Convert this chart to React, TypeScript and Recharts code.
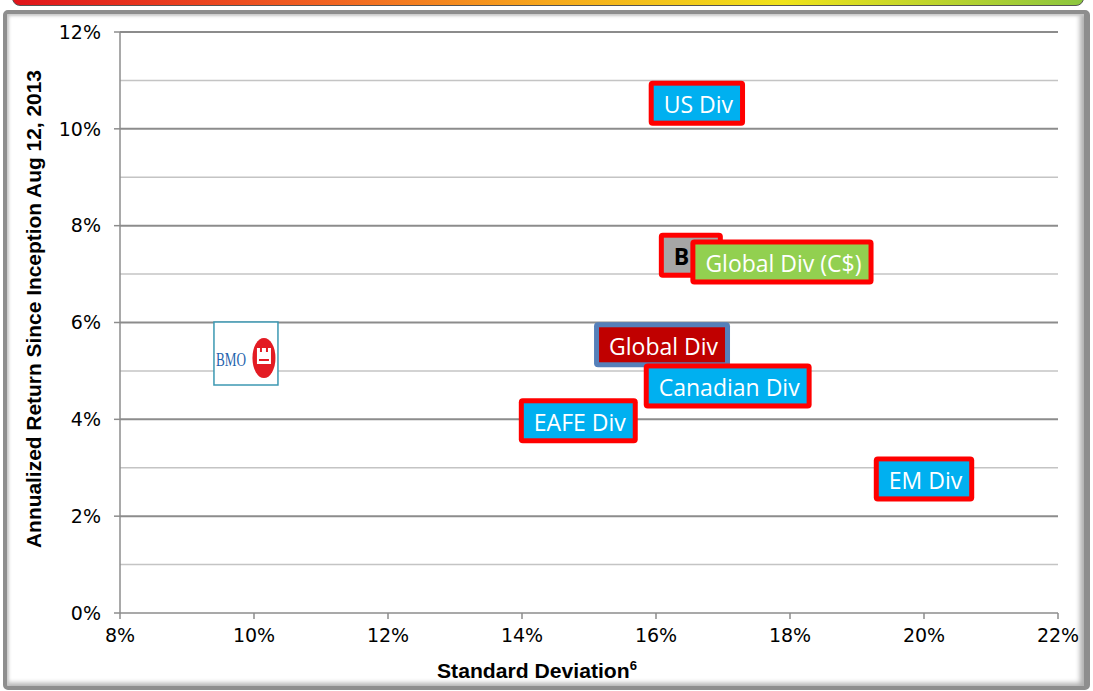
import React from "react";
import { ReferenceLine, Scatter, ScatterChart, XAxis, YAxis } from "recharts";

// Fund labels, risk (std dev %) and annualized return (%)
const fundNames = ["B", "US Div", "Global Div (C$)", "Global Div", "Canadian Div", "EAFE Div", "EM Div"];
const stdDevs = [16.52, 16.61, 17.88, 16.09, 17.07, 14.84, 20.0];
const annualReturns = [7.39, 10.53, 7.25, 5.54, 4.69, 3.97, 2.77];
const boxFills = ["#a6a6a6", "#00b0f0", "#92d050", "#c00000", "#00b0f0", "#00b0f0", "#00b0f0"];
const boxBorders = ["#ff0000", "#ff0000", "#ff0000", "#5580ba", "#ff0000", "#ff0000", "#ff0000"];

// BMO logo sits on its own point
const logoStdDev = [9.88];
const logoReturn = [5.37];

const xTicks = [8, 10, 12, 14, 16, 18, 20, 22];
const yTicks = [0, 2, 4, 6, 8, 10, 12];
const minorY = [1, 3, 5, 7, 9, 11];

const funds = fundNames.map((name, i) => ({
	name,
	x: stdDevs[i],
	y: annualReturns[i],
	fill: boxFills[i],
	border: boxBorders[i],
}));
const logo = logoStdDev.map((x, i) => ({ x, y: logoReturn[i] }));

const LABEL_SIZE = 23;
let measureCtx: CanvasRenderingContext2D | null = null;
const textWidth = (s: string, bold: boolean) => {
	if (!measureCtx) measureCtx = document.createElement("canvas").getContext("2d");
	if (!measureCtx) return s.length * 12;
	measureCtx.font = `${bold ? "bold " : ""}${LABEL_SIZE}px 'Open Sans'`;
	return measureCtx.measureText(s).width;
};

const FundBox = (props: any) => {
	const { cx, cy, payload } = props;
	const dark = payload.name === "B";
	const w = Math.max(textWidth(payload.name, dark) + 27, 64);
	const h = 45;
	const x = cx - w / 2;
	const y = cy - h / 2;
	return (
		<g>
			<rect x={x} y={y} width={w} height={h} rx={4} fill={payload.border} />
			<rect x={x + 5} y={y + 5} width={w - 10} height={h - 10} fill={payload.fill} />
			<text
				x={x + 15}
				y={cy + 1}
				dominantBaseline="central"
				fontFamily="'Open Sans', sans-serif"
				fontSize={LABEL_SIZE}
				fontWeight={dark ? 700 : 400}
				fill={dark ? "#000" : "#fff"}
			>
				{payload.name}
			</text>
		</g>
	);
};

const BmoLogo = (props: any) => {
	const { cx, cy } = props;
	const lx = cx + 18;
	const ly = cy + 5;
	return (
		<g>
			<rect x={cx - 32} y={cy - 31} width={64} height={63} fill="#fff" stroke="#3c98b2" strokeWidth={1.5} />
			<text
				x={cx - 30}
				y={cy + 13}
				fontFamily="'Liberation Serif', serif"
				fontSize={19}
				textLength={30}
				lengthAdjust="spacingAndGlyphs"
				fill="#1f64ad"
			>
				BMO
			</text>
			<ellipse cx={lx} cy={ly} rx={11.5} ry={20} fill="#e31b23" />
			<path d={`M${lx - 7} ${ly - 10} h3 v4 h2 v-4 h4 v4 h2 v-4 h3 v16 h-14 z`} fill="#fff" />
			<rect x={lx - 5} y={ly + 1} width={10} height={2} fill="#e31b23" />
		</g>
	);
};

const tickStyle = { fontFamily: "'DejaVu Sans', sans-serif", fontSize: 19, fill: "#000" };

export default function App() {
	return (
		<div style={{ position: "fixed", left: 0, top: 0, width: 1093, height: 691, background: "#fff" }}>
			{/* header strip */}
			<div
				style={{
					position: "absolute",
					left: 12,
					top: -6,
					width: 1070,
					height: 10,
					borderRadius: "0 0 8px 8px",
					border: "1px solid #555",
					background: "linear-gradient(to right, #e0141b 0%, #f26522 30%, #f7a81c 50%, #f0e31a 72%, #8cc63f 100%)",
				}}
			/>
			{/* chart frame */}
			<div
				style={{
					position: "absolute",
					left: 3,
					top: 10,
					width: 1087,
					height: 680,
					boxSizing: "border-box",
					borderStyle: "solid",
					borderColor: "#8e8e8e",
					borderWidth: "4px 6px 4px 4px",
					borderRadius: 5,
					boxShadow: "inset 2px 2px 3px #c8c8c8, inset -4px -3px 5px #b0b0b0",
				}}
			/>
			<div style={{ position: "absolute", left: 0, top: 0 }}>
				<ScatterChart width={1093} height={691} margin={{ top: 32, right: 35, bottom: 38, left: 60 }}>
					{minorY.map((v) => (
						<ReferenceLine key={`m${v}`} y={v} stroke="#c4c4c4" strokeWidth={1.5} />
					))}
					{yTicks
						.filter((v) => v > 0)
						.map((v) => (
							<ReferenceLine key={`M${v}`} y={v} stroke="#8c8c8c" strokeWidth={2} />
						))}
					<XAxis
						type="number"
						dataKey="x"
						domain={[8, 22]}
						ticks={xTicks}
						interval={0}
						tickFormatter={(v) => `${v}%`}
						stroke="#8c8c8c"
						strokeWidth={1.5}
						tickSize={6}
						tickMargin={10}
						tick={tickStyle}
						height={40}
						label={() => (
							<text
								x={537}
								y={678}
								textAnchor="middle"
								fontFamily="'Liberation Sans', sans-serif"
								fontWeight={700}
								fontSize={21}
								textLength={200}
								lengthAdjust="spacingAndGlyphs"
								fill="#000"
							>
								Standard Deviation<tspan fontSize={13} dy={-8}>6</tspan>
							</text>
						)}
					/>
					<YAxis
						type="number"
						dataKey="y"
						domain={[0, 12]}
						ticks={yTicks}
						interval={0}
						tickFormatter={(v) => `${v}%`}
						stroke="#8c8c8c"
						strokeWidth={1.5}
						tickSize={6}
						tickMargin={13}
						tick={tickStyle}
						width={60}
						label={() => (
							<text
								x={41}
								y={309}
								transform="rotate(-90 41 309)"
								textAnchor="middle"
								fontFamily="'Liberation Sans', sans-serif"
								fontWeight={700}
								fontSize={21}
								textLength={478}
								lengthAdjust="spacingAndGlyphs"
								fill="#000"
							>
								Annualized Return Since Inception Aug 12, 2013
							</text>
						)}
					/>
					<Scatter data={logo} shape={BmoLogo} isAnimationActive={false} />
					<Scatter data={funds} shape={FundBox} isAnimationActive={false} />
				</ScatterChart>
			</div>
		</div>
	);
}
